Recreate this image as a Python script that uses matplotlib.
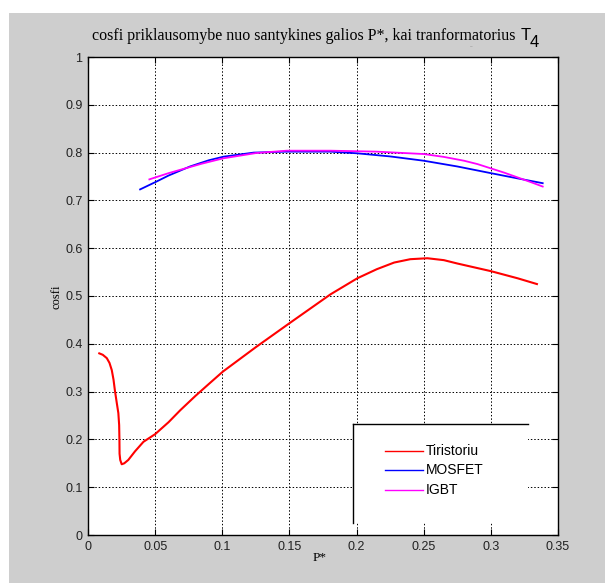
import matplotlib
matplotlib.use("Agg")
import matplotlib.pyplot as plt
from matplotlib.patches import Rectangle
from matplotlib.lines import Line2D

# ---- data ----
p_tir = [0.0084, 0.0110, 0.0140, 0.0160, 0.0177, 0.0190, 0.0200, 0.0215, 0.0226, 0.0232,
         0.0234, 0.0235, 0.0240, 0.0251, 0.0270, 0.0300, 0.0350, 0.0413, 0.0500, 0.0600,
         0.0687, 0.0800, 0.0900, 0.1005, 0.1250, 0.1500, 0.1806, 0.2005, 0.2150, 0.2280,
         0.2400, 0.2527, 0.2650, 0.2750, 0.3000, 0.3200, 0.3343]
c_tir = [0.380, 0.377, 0.370, 0.360, 0.345, 0.325, 0.303, 0.275, 0.255, 0.230,
         0.200, 0.170, 0.157, 0.148, 0.150, 0.157, 0.175, 0.195, 0.211, 0.236,
         0.261, 0.291, 0.316, 0.342, 0.393, 0.443, 0.5035, 0.537, 0.556, 0.570,
         0.577, 0.579, 0.575, 0.568, 0.552, 0.537, 0.525]

p_mos = [0.0388, 0.0507, 0.0600, 0.0760, 0.0900, 0.1010, 0.1234, 0.1480, 0.1806, 0.2005,
         0.2250, 0.2500, 0.2750, 0.3000, 0.3200, 0.3386]
c_mos = [0.723, 0.739, 0.752, 0.771, 0.784, 0.7915, 0.800, 0.802, 0.802, 0.7985,
         0.792, 0.783, 0.771, 0.757, 0.746, 0.736]

p_igbt = [0.0457, 0.0600, 0.0687, 0.0850, 0.1007, 0.1250, 0.1480, 0.1806, 0.2150, 0.2500,
          0.2650, 0.2800, 0.2900, 0.3000, 0.3100, 0.3200, 0.3300, 0.3386]
c_igbt = [0.744, 0.757, 0.764, 0.777, 0.788, 0.799, 0.804, 0.804, 0.802, 0.797,
          0.791, 0.783, 0.776, 0.767, 0.758, 0.748, 0.738, 0.729]

series_names = ["Tiristoriu", "MOSFET", "IGBT"]
series_colors = ["#ff0000", "#0000ff", "#ff00ff"]
x_ticks = [0, 0.05, 0.1, 0.15, 0.2, 0.25, 0.3, 0.35]
x_tick_labels = ["0", "0.05", "0.1", "0.15", "0.2", "0.25", "0.3", "0.35"]
y_ticks = [0, 0.1, 0.2, 0.3, 0.4, 0.5, 0.6, 0.7, 0.8, 0.9, 1]
y_tick_labels = ["0", "0.1", "0.2", "0.3", "0.4", "0.5", "0.6", "0.7", "0.8", "0.9", "1"]

W, H = 605, 583
fig = plt.figure(figsize=(W / 100, H / 100), dpi=100)
fig.patch.set_facecolor("white")

def fx(px):
    return px / W

def fy(py):
    return 1 - py / H

# grey figure background (MATLAB-style), leaving white strip at top/left
fig.patches.append(Rectangle((fx(9), 0), 1 - fx(9), fy(13), transform=fig.transFigure,
                             facecolor="#cecece", edgecolor="none", zorder=-10))

ax = fig.add_axes([fx(88), fy(535), fx(558) - fx(88), fy(57) - fy(535)])
ax.set_facecolor("white")

lines_data = [(p_tir, c_tir), (p_mos, c_mos), (p_igbt, c_igbt)]
widths = [1.5, 1.3, 1.3]
for (px, cy), col, lw in zip(lines_data, series_colors, widths):
    ax.plot(px, cy, color=col, lw=lw, zorder=3)

ax.set_xlim(0, 0.35)
ax.set_ylim(0, 1)
ax.set_xticks(x_ticks)
ax.set_xticklabels(x_tick_labels)
ax.set_yticks(y_ticks)
ax.set_yticklabels(y_tick_labels)
ax.tick_params(direction="in", length=4, width=0.8, top=True, right=True,
               labelsize=9, pad=4, colors="black")
for lab in ax.get_xticklabels() + ax.get_yticklabels():
    lab.set_fontfamily("Liberation Sans")
    lab.set_color("#222222")
ax.grid(True, color="black", linestyle=(0, (1.5, 2)), linewidth=0.7)
for s in ax.spines.values():
    s.set_linewidth(1.0)
    s.set_color("black")

# labels
fig.text(fx(57), fy(297), "cosfi", rotation=90, ha="center", va="center",
         fontsize=9, family="Liberation Serif")
fig.text(fx(320), fy(558), "P*", ha="center", va="center",
         fontsize=9.5, family="Liberation Serif")

# title
fig.text(fx(519), fy(40), "cosfi priklausomybe nuo santykines galios P*, kai tranformatorius ",
         ha="right", va="baseline", fontsize=11.5, family="Liberation Serif")
fig.text(fx(521), fy(40), "T", ha="left", va="baseline", fontsize=12, family="Liberation Sans")
fig.text(fx(530), fy(47), "4", ha="left", va="baseline", fontsize=12, family="Liberation Sans")
fig.text(fx(472), fy(48), "--", ha="center", va="baseline", fontsize=4, color="#888888",
         family="Liberation Sans")

# legend box (only top and left edges drawn, as in the reference)
lx0, lx1, ly0, ly1 = 353, 528, 424, 523
fig.patches.append(Rectangle((fx(lx0), fy(ly1)), fx(lx1) - fx(lx0), fy(ly0) - fy(ly1),
                             transform=fig.transFigure, facecolor="white",
                             edgecolor="none", zorder=5))
fig.lines.append(Line2D([fx(lx0), fx(lx1)], [fy(ly0), fy(ly0)], transform=fig.transFigure,
                        color="black", lw=1.0, zorder=6))
fig.lines.append(Line2D([fx(lx0), fx(lx0)], [fy(ly0), fy(ly1)], transform=fig.transFigure,
                        color="black", lw=1.0, zorder=6))
rows = [451, 470, 490]
for name, col, ry in zip(series_names, series_colors, rows):
    fig.lines.append(Line2D([fx(385), fx(423)], [fy(ry), fy(ry)], transform=fig.transFigure,
                            color=col, lw=1.0, zorder=6))
    fig.text(fx(426), fy(ry), name, ha="left", va="center", fontsize=10,
             family="Liberation Sans", zorder=7)

fig.savefig("out.png", dpi=100)
